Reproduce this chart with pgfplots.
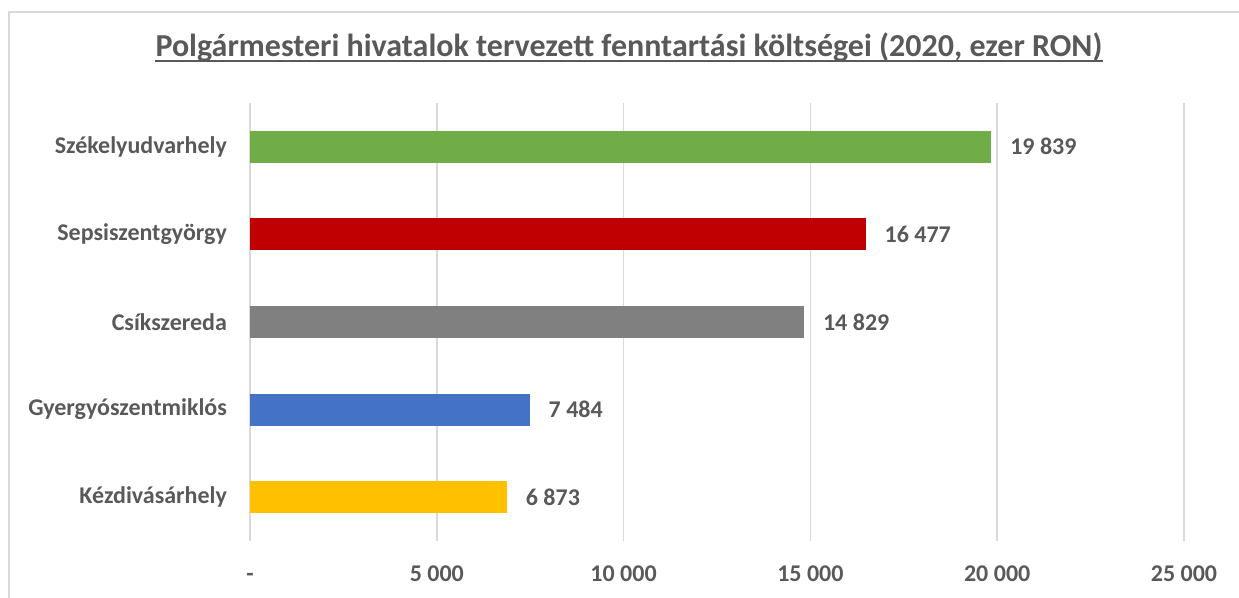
\documentclass[border=0pt]{standalone}
\usepackage{pgfplots}
\pgfplotsset{compat=1.18}
\usepackage{fontspec}
\setmainfont{Carlito}
\definecolor{txt}{HTML}{595959}
\definecolor{gridc}{HTML}{D9D9D9}
\definecolor{cgreen}{HTML}{70AD47}
\definecolor{cred}{HTML}{C00000}
\definecolor{cgray}{HTML}{808080}
\definecolor{cblue}{HTML}{4472C4}
\definecolor{cyellow}{HTML}{FFC000}
\begin{document}
\begin{tikzpicture}
\useasboundingbox (0,0) rectangle (619.5pt,299pt);
\draw[gridc, line width=0.6pt] (4.5pt,-5pt) -- (4.5pt,293pt) -- (625pt,293pt);
\node[anchor=base, inner sep=0pt, text=txt, font=\fontsize{16}{18}\selectfont\bfseries] (title) at (314.5pt,270.5pt) {Polgármesteri hivatalok tervezett fenntartási költségei (2020, ezer RON)};
\draw[txt, line width=1pt] ([yshift=-2.2pt]title.base west) -- ([yshift=-2.2pt]title.base east);
\begin{axis}[
  at={(125pt,28.5pt)}, anchor=south west,
  scale only axis, width=467pt, height=219pt,
  xbar, bar width=16pt, bar shift=0pt,
  xmin=0, xmax=25000, ymin=-0.5, ymax=4.5,
  axis line style={draw=none},
  major tick length=0pt,
  xmajorgrids, grid style={gridc, line width=0.75pt},
  xtick={0,5000,10000,15000,20000,25000},
  xticklabels={-,5 000,10 000,15 000,20 000,25 000},
  ytick={0,1,2,3,4},
  yticklabels={Kézdivásárhely,Gyergyószentmiklós,Csíkszereda,Sepsiszentgyörgy,Székelyudvarhely},
  ticklabel style={font=\fontsize{12}{14}\selectfont\bfseries, text=txt},
  xticklabel style={yshift=-8pt, text height=8.5pt, text depth=0pt},
  yticklabel style={xshift=-8pt},
  /pgf/number format/assume math mode=true,
  /pgf/number format/1000 sep={\ },
  nodes near coords,
  nodes near coords style={font=\fontsize{12}{14}\selectfont\bfseries, text=txt, xshift=6pt},
]
\addplot[fill=cyellow, draw=none] coordinates {(6873,0)};
\addplot[fill=cblue, draw=none] coordinates {(7484,1)};
\addplot[fill=cgray, draw=none] coordinates {(14829,2)};
\addplot[fill=cred, draw=none] coordinates {(16477,3)};
\addplot[fill=cgreen, draw=none] coordinates {(19839,4)};
\end{axis}
\end{tikzpicture}
\end{document}
